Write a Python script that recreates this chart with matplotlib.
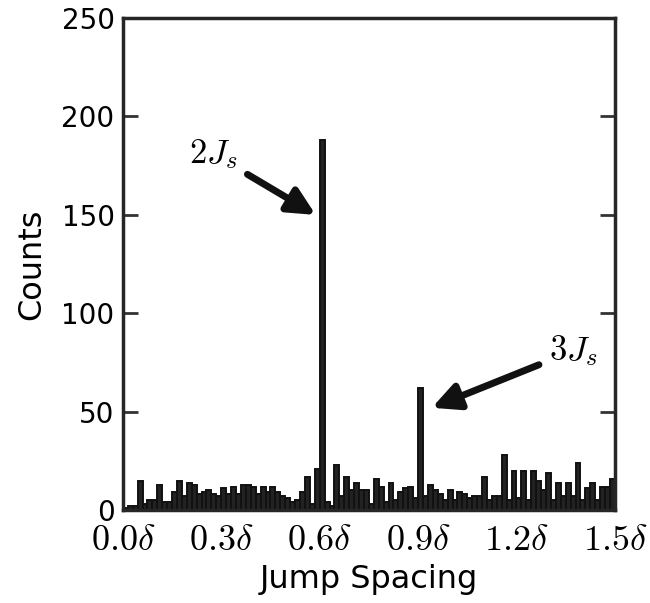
import matplotlib
matplotlib.use("Agg")
import matplotlib.pyplot as plt
import numpy as np

plt.rcParams['mathtext.fontset'] = 'cm'
plt.rcParams['font.family'] = ['DejaVu Sans']

# histogram of jump spacings (units of delta), 100 bins from 0 to 1.5
bin_lo = 0.0
bin_hi = 1.5
counts = [
    1, 2, 2, 15, 3, 5, 5, 13, 4, 4,
    9, 15, 7, 14, 13, 8, 9, 10, 8, 7,
    11, 8, 12, 8, 13, 13, 12, 8, 12, 9,
    12, 9, 7, 6, 4, 5, 9, 17, 3, 21,
    188, 4, 2, 23, 7, 17, 10, 14, 10, 10,
    3, 16, 12, 4, 14, 5, 9, 11, 12, 6,
    62, 7, 13, 10, 8, 5, 10, 5, 9, 8,
    6, 7, 7, 17, 5, 7, 7, 28, 5, 20,
    6, 20, 5, 20, 15, 10, 19, 5, 14, 7,
    14, 7, 24, 5, 11, 14, 5, 12, 12, 16,
]
xtick_vals = [0.0, 0.3, 0.6, 0.9, 1.2, 1.5]
xtick_labels = [r'$0.0\delta$', r'$0.3\delta$', r'$0.6\delta$', r'$0.9\delta$', r'$1.2\delta$', r'$1.5\delta$']
ytick_vals = [0, 50, 100, 150, 200, 250]
annotations = [
    (r'$2J_s$', (0.588, 150), (0.275, 181)),
    (r'$3J_s$', (0.942, 52), (1.375, 81)),
]

edges = np.linspace(bin_lo, bin_hi, len(counts) + 1)

fig = plt.figure(figsize=(6.5, 6.03), dpi=100)
ax = fig.add_axes([0.189, 0.154, 0.757, 0.816])

ax.bar(edges[:-1], counts, width=np.diff(edges), align='edge',
       color='#222222', edgecolor='#111111', linewidth=1.4)

ax.set_xlim(bin_lo, bin_hi)
ax.set_ylim(0, 250)
ax.set_xticks(xtick_vals)
ax.set_xticklabels(xtick_labels)
ax.set_yticks(ytick_vals)
ax.tick_params(axis='y', direction='in', length=11, width=2, right=True,
               labelsize=20, color='#333333', pad=6)
ax.tick_params(axis='x', direction='in', length=0, labelsize=26, pad=9)

for s in ax.spines.values():
    s.set_linewidth(2.5)
    s.set_color('#262626')

ax.set_ylabel('Counts', fontsize=23, labelpad=10)
ax.set_xlabel('Jump Spacing', fontsize=23, labelpad=5)

for txt, tip, pos in annotations:
    ax.annotate(txt, xy=tip, xytext=pos, fontsize=25, ha='center', va='center',
                arrowprops=dict(arrowstyle='-|>,head_length=0.65,head_width=0.32',
                                color='#111111', lw=5, shrinkA=6, shrinkB=0))

fig.savefig('out.png', dpi=100)
